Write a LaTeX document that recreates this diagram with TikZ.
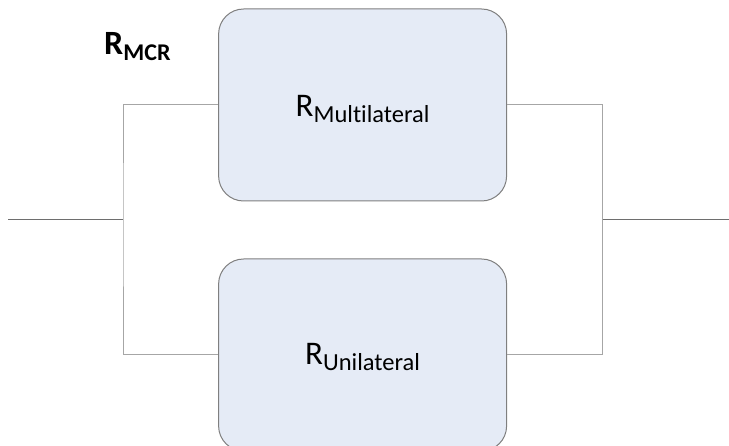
\documentclass[tikz,border=0pt]{standalone}
\usepackage{fontspec}
\setmainfont[Ligatures=NoCommon]{Carlito}
\definecolor{boxfill}{HTML}{E5EBF6}
\definecolor{boxline}{HTML}{7F7F7F}
\definecolor{branch}{HTML}{A6A6A6}
\definecolor{trunk}{HTML}{6E6E6E}
\newcommand{\subtxt}[1]{\raisebox{-6pt}{\fontsize{24.5}{24.5}\selectfont #1}}
\begin{document}
\begin{tikzpicture}[x=1pt,y=-1pt,
  block/.style={draw=boxline, fill=boxfill, line width=1pt, rounded corners=25pt,
    minimum width=288pt, minimum height=192pt, inner sep=0pt},
  label/.style={anchor=base, inner sep=0pt, font=\fontsize{33}{33}\selectfont},
  branchline/.style={draw=branch, line width=1pt},
  trunkline/.style={draw=trunk, line width=1pt}]
  \useasboundingbox (0,0) rectangle (729,446);
  \clip (0,0) rectangle (729,446);

  % the two parallel blocks
  \node[block] (multi) at (362.6,105) {};
  \node[block] (uni) at (362.6,355) {};
  \node[label] (multilbl) at (362.6,117) {R\subtxt{Multilateral}};
  \node[label] (unilbl) at (362.6,365) {R\subtxt{Unilateral}};

  % overall label
  \node[anchor=base west, inner sep=0pt, font=\bfseries\fontsize{34}{34}\selectfont] (mcr) at (104,55)
    {R\raisebox{-6pt}{\fontsize{24}{24}\selectfont MCR}};

  % junctions and free ends
  \coordinate (ljoin) at (123,220);
  \coordinate (rjoin) at (602.7,220);
  \coordinate (inend) at (8,220);
  \coordinate (outend) at (729,220);

  % wiring
  \draw[branchline] (multi.west) -| (ljoin) |- (uni.west);
  \draw[branchline] (multi.east) -| (rjoin) |- (uni.east);
  \draw[trunkline] (inend) -- (ljoin);
  \draw[trunkline] (rjoin) -- (outend);
\end{tikzpicture}
\end{document}
